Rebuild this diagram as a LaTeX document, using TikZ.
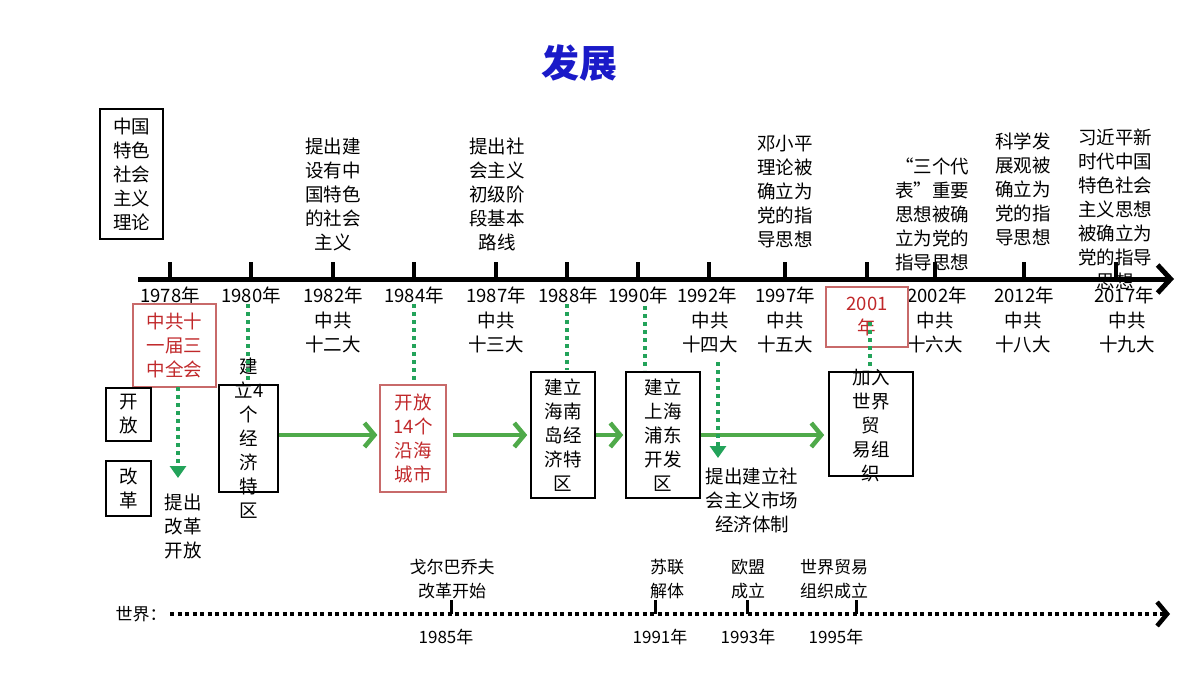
\documentclass[tikz,border=0pt]{standalone}
\usepackage{fontspec}
\setmainfont{Noto Sans CJK SC}
\usetikzlibrary{arrows.meta}
\definecolor{gdot}{HTML}{23A35A}
\definecolor{garr}{HTML}{4FAA4A}
\definecolor{rtxt}{HTML}{C0282A}
\definecolor{rbox}{HTML}{C86A6A}
\definecolor{ttl}{HTML}{1A1AC8}
\begin{document}
\begin{tikzpicture}[x=1pt,y=-1pt,
 txt/.style={font=\fontsize{18.5}{24}\selectfont, align=center, inner sep=0pt},
 wtxt/.style={font=\fontsize{17}{24}\selectfont, align=center, inner sep=0pt},
 bx/.style={draw, line width=1.6pt, inner sep=0pt},
 rbx/.style={draw=rbox, line width=1.2pt, inner sep=0pt, text=rtxt},
 tickmark/.style={line width=4pt},
 gdots/.style={gdot, line width=4pt, dash pattern=on 4pt off 4pt},
 gdotarrow/.style={gdots, -{Triangle[length=12pt,width=16pt]}},
 garrow/.style={garr, line width=4.5pt, -{Straight Barb[length=10pt,width=24pt]}},
]
\useasboundingbox (0,0) rectangle (1200,675);

% title
\node[font=\fontsize{38}{42}\selectfont\bfseries, text=ttl, inner sep=0pt] (title) at (579,63) {发展};

% main timeline
\coordinate (tl0) at (138,279);
\coordinate (tl1) at (1174,279);
\draw[line width=5pt, -{Straight Barb[length=13pt,width=28pt]}] (tl0) -- (tl1);
\foreach \x in {170,251,333,414,496,567,638,709,785,867,935,1024,1116}
  \draw[tickmark] (\x,262) -- (\x,279);

% year labels
\foreach \x/\t/\n in {170/1978/78,251/1980/80,333/1982/82,414/1984/84,496/1987/87,568/1988/88,638/1990/90,707/1992/92,785/1997/97,937/2002/02,1024/2012/12,1124/2017/17}
  \node[txt] (y\n) at (\x,295) {\t 年};

% congresses
\foreach \x/\t/\n in {333/十二大/c82,496/十三大/c87,710/十四大/c92,785/十五大/c97,935/十六大/c02,1023/十八大/c12,1127/十九大/c17}
  \node[txt] (\n) at (\x,332) {中共\\\t};

% top texts
\node[bx, minimum width=63pt, minimum height=130pt, txt] (theory) at (131.5,174) {中国\\特色\\社会\\主义\\理论};
\node[txt] (top82) at (333,194) {提出建\\设有中\\国特色\\的社会\\主义};
\node[txt] (top87) at (497,194) {提出社\\会主义\\初级阶\\段基本\\路线};
\node[txt] (top97) at (785,192) {邓小平\\理论被\\确立为\\党的指\\导思想};
\node[txt] (top02) at (932,214) {“三个代\\表”重要\\思想被确\\立为党的\\指导思想};
\node[txt] (top12) at (1023,189) {科学发\\展观被\\确立为\\党的指\\导思想};
\node[txt] (top17) at (1115,209) {习近平新\\时代中国\\特色社会\\主义思想\\被确立为\\党的指导\\思想};

% 1978
\node[rbx, minimum width=83pt, minimum height=83pt, txt] (b78) at (174.5,345.5) {中共十\\一届三\\中全会};
\node[bx, minimum width=45pt, minimum height=53pt, txt] (kf) at (128.5,414.5) {开\\放};
\node[bx, minimum width=45pt, minimum height=55pt, txt] (gg) at (128.5,488.5) {改\\革};
\node[txt] (t78) at (183,527) {提出\\改革\\开放};
\coordinate (a78s) at (178,387);
\coordinate (a78e) at (178,478);
\draw[gdotarrow] (a78s) -- (a78e);

% 1980
\node[bx, minimum width=59pt, minimum height=107pt] (b80) at (248.5,438.5) {};
\node[txt] (t80) at (249,438.5) {建\\立4\\个\\经\\济\\特\\区};
\coordinate (d80s) at (248,304);
\coordinate (d80e) at (248,381);
\draw[gdots] (d80s) -- (d80e);

% 1984
\node[rbx, minimum width=66pt, minimum height=107pt, txt] (b84) at (413,438.5) {开放\\14个\\沿海\\城市};
\coordinate (d84s) at (414,304);
\coordinate (d84e) at (414,381);
\draw[gdots] (d84s) -- (d84e);

% 1988
\node[bx, minimum width=64pt, minimum height=126pt, txt] (b88) at (563,435) {建立\\海南\\岛经\\济特\\区};
\coordinate (d88s) at (567,304);
\coordinate (d88e) at (567,370);
\draw[gdots] (d88s) -- (d88e);

% 1990
\node[bx, minimum width=74pt, minimum height=126pt, txt] (b90) at (663,435) {建立\\上海\\浦东\\开发\\区};
\coordinate (d90s) at (645,306);
\coordinate (d90e) at (645,370);
\draw[gdots] (d90s) -- (d90e);

% 1992
\coordinate (a92s) at (718,362);
\coordinate (a92e) at (718,458);
\node[txt] (t92) at (752,500) {提出建立社\\会主义市场\\经济体制};

% 2001
\node[bx, minimum width=84pt, minimum height=104pt] (b01) at (871,424) {};
\node[txt] (t01) at (871,425.5) {加入\\世界\\贸\\易组\\织};
\node[rbx, minimum width=82pt, minimum height=60pt, txt] (r01) at (867,317) {2001\\年};
\coordinate (d01s) at (870,322);
\coordinate (d01e) at (870,370);
\draw[gdots] (d01s) -- (d01e);

% green arrows
\draw[garrow] (b80.east |- 0,435) -- ([xshift=-2pt]b84.west |- 0,435);
\draw[garrow, shorten <=6pt] (b84.east |- 0,435) -- ([xshift=-3pt]b88.west |- 0,435);
\draw[garrow] (b88.east |- 0,435) -- ([xshift=-2pt]b90.west |- 0,435);
\draw[garrow] (b90.east |- 0,435) -- ([xshift=-4pt]b01.west |- 0,435);
\draw[gdotarrow] (a92s) -- (a92e);

% world line
\node[wtxt] (world) at (141,614) {世界：};
\coordinate (w0) at (170,614);
\coordinate (w1) at (1170,614);
\draw[line width=4pt, dash pattern=on 4pt off 3.5pt, -{Straight Barb[length=10pt,width=24pt,line width=4.5pt]}] (w0) -- (w1);
\foreach \x in {451,655,747,856}
  \draw[line width=3pt] (\x,600) -- (\x,614);
\node[wtxt] (e85) at (452,579) {戈尔巴乔夫\\改革开始};
\node[wtxt] (e91) at (667,579) {苏联\\解体};
\node[wtxt] (e93) at (748,579) {欧盟\\成立};
\node[wtxt] (e95) at (834,579) {世界贸易\\组织成立};
\node[wtxt] (w85) at (446,637) {1985年};
\node[wtxt] (w91) at (660,637) {1991年};
\node[wtxt] (w93) at (748,637) {1993年};
\node[wtxt] (w95) at (836,637) {1995年};
\end{tikzpicture}
\end{document}
